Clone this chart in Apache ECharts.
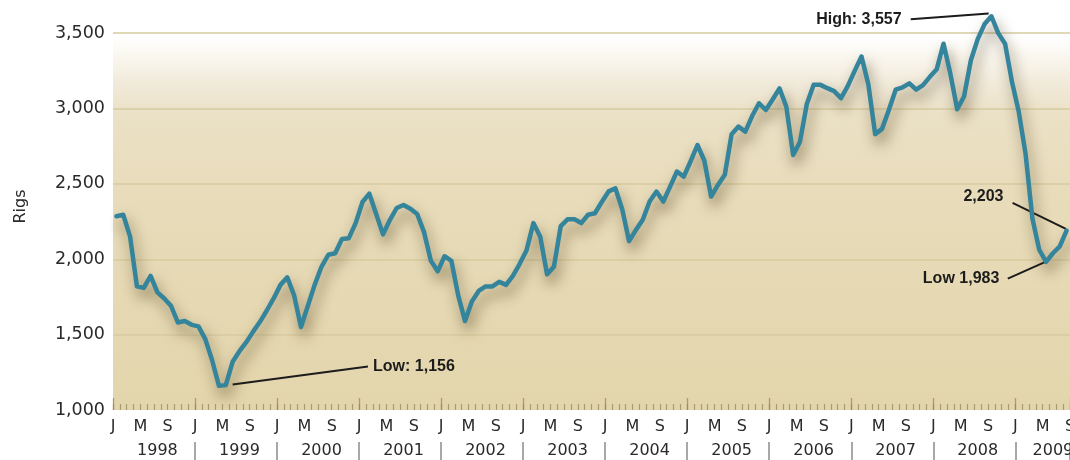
<!DOCTYPE html>
<html><head><meta charset="utf-8">
<script src="https://cdn.jsdelivr.net/npm/echarts@6/dist/echarts.min.js"></script>
<style>html,body{margin:0;padding:0;background:#fff}#c{width:1070px;height:460px}</style>
</head><body><div id="c"></div>
<script>
// ---- data (monthly rig counts, Jan 1998 - Aug 2009) ----
const years = ['1998','1999','2000','2001','2002','2003','2004','2005','2006','2007','2008','2009'];
const monthLetters = ['J','M','S'];
const rigs1998 = [2285,2295,2150,1820,1810,1890,1780,1740,1690,1580,1590,1565];
const rigs1999 = [1555,1470,1330,1160,1165,1320,1390,1450,1520,1585,1660,1740];
const rigs2000 = [1830,1880,1760,1550,1690,1830,1950,2030,2040,2135,2140,2240];
const rigs2001 = [2380,2435,2300,2165,2260,2340,2360,2335,2300,2180,1990,1920];
const rigs2002 = [2020,1990,1760,1590,1720,1790,1820,1820,1850,1830,1890,1970];
const rigs2003 = [2060,2240,2150,1900,1950,2220,2265,2265,2240,2295,2305,2380];
const rigs2004 = [2450,2470,2330,2120,2195,2262,2383,2449,2383,2482,2582,2548];
const rigs2005 = [2650,2758,2655,2416,2493,2560,2830,2880,2847,2950,3035,2990];
const rigs2006 = [3060,3134,3012,2692,2780,3030,3157,3157,3135,3115,3068,3150];
const rigs2007 = [3250,3345,3160,2830,2865,2990,3125,3140,3167,3125,3155,3210];
const rigs2008 = [3260,3430,3230,2995,3080,3320,3460,3560,3612,3500,3430,3180];
const rigs2009 = [2980,2700,2270,2063,1983,2040,2085,2190];
const notes = ['High: 3,557','Low: 1,156','2,203','Low 1,983'];
const yMin = 1000, yMax = 3700, yStep = 500;

const rigs = [].concat(rigs1998,rigs1999,rigs2000,rigs2001,rigs2002,rigs2003,
  rigs2004,rigs2005,rigs2006,rigs2007,rigs2008,rigs2009);
const monthCats = [];
years.forEach(y => { for (let m = 0; m < 12; m++) monthCats.push(y + '-' + (m + 1)); });
const nMonths = 140; // axis span: Jan 1998 .. start of Sep 2009

const FONT = "'DejaVu Sans', Arial, sans-serif";
const NOTE_FONT = "'Liberation Sans Narrow', 'Liberation Sans', Arial, sans-serif";
const txt = '#2a2a2a';
const tickColor = 'rgba(150,135,95,0.75)';

const chart = echarts.init(document.getElementById('c'), null, {renderer: 'canvas'});

const noteLabel = (text, pos) => ({
  show: true, formatter: text, position: pos, distance: 3,
  color: '#1c1c1c', fontFamily: NOTE_FONT, fontWeight: 'bold', fontSize: 16
});

chart.setOption({
  animation: false,
  grid: {
    left: 113, right: 0, top: 3, bottom: 50, show: true, borderWidth: 0,
    outerBoundsMode: 'none', containLabel: false,
    backgroundColor: {
      type: 'linear', x: 0, y: 0, x2: 0, y2: 1,
      colorStops: [
        {offset: 0, color: '#ffffff'},
        {offset: 0.085, color: '#ffffff'},
        {offset: 0.13, color: '#faf7ef'},
        {offset: 0.2, color: '#f1eada'},
        {offset: 0.27, color: '#ebe1c6'},
        {offset: 0.45, color: '#e8dcbb'},
        {offset: 1, color: '#e3d5ab'}
      ]
    }
  },
  xAxis: [
    {
      type: 'value', min: 0, max: nMonths, interval: 4, position: 'bottom',
      axisLine: {show: false},
      axisTick: {show: true, inside: true, length: 6, lineStyle: {color: tickColor, width: 1.2}},
      minorTick: {show: true, splitNumber: 4, length: 6, lineStyle: {color: tickColor, width: 1.2}},
      splitLine: {show: false}, minorSplitLine: {show: false},
      axisLabel: {
        formatter: v => monthLetters[Math.round(v / 4) % 3],
        color: txt, fontSize: 16, margin: 9, fontFamily: FONT,
        showMinLabel: true, showMaxLabel: true
      }
    },
    {
      type: 'value', min: 0, max: nMonths, interval: 12, position: 'bottom',
      axisLine: {show: false},
      axisTick: {show: true, inside: true, length: 12, lineStyle: {color: tickColor, width: 1.3}},
      axisLabel: {show: false}, splitLine: {show: false}
    },
    {
      type: 'category', data: monthCats.slice(0, nMonths), boundaryGap: true,
      position: 'bottom', offset: 32,
      axisLine: {show: false},
      axisTick: {show: true, interval: i => i % 12 === 0 && i > 0, length: 20,
        lineStyle: {color: '#8c8c8c', width: 1.5}},
      axisLabel: {
        interval: i => (i % 12 === 6 && i < 132) || i === 137,
        formatter: (v, i) => years[Math.floor(i / 12)],
        color: txt, fontSize: 16, margin: 1, fontFamily: FONT
      }
    }
  ],
  yAxis: {
    type: 'value', min: yMin, max: yMax, interval: yStep,
    name: 'Rigs', nameLocation: 'middle', nameGap: 84,
    nameTextStyle: {color: txt, fontSize: 16, fontFamily: FONT},
    axisLine: {show: false}, axisTick: {show: false},
    axisLabel: {formatter: v => v.toLocaleString('en-US'), color: txt, fontSize: 17.5,
      margin: 8, fontFamily: FONT, showMaxLabel: false},
    splitLine: {show: true, showMinLine: false, showMaxLine: false,
      lineStyle: {color: '#d7cba0', width: 1.5}}
  },
  series: [{
    type: 'line', xAxisIndex: 0,
    data: rigs.map((v, i) => [i + 0.5, v]),
    showSymbol: false, clip: false, z: 5,
    lineStyle: {
      color: '#34849c', width: 4.5, join: 'round', cap: 'round',
      shadowColor: 'rgba(70,52,15,0.6)', shadowBlur: 14, shadowOffsetX: 3, shadowOffsetY: 8
    },
    markLine: {
      silent: true, symbol: ['none', 'none'], animation: false,
      label: {show: false},
      lineStyle: {color: '#1c1c1c', width: 2, type: 'solid'},
      data: [
        [{coord: [116.7, 3593]}, {coord: [128.1, 3630]}],
        [{coord: [17.5, 1169]}, {coord: [37.3, 1288]}],
        [{coord: [131.6, 2374]}, {coord: [139.4, 2202]}],
        [{coord: [130.9, 1871]}, {coord: [136.4, 1983]}]
      ]
    },
    markPoint: {
      silent: true, symbol: 'circle', symbolSize: 0, animation: false,
      data: [
        {coord: [115.8, 3593], label: noteLabel(notes[0], 'left')},
        {coord: [37.6, 1288], label: noteLabel(notes[1], 'right')},
        {coord: [130.7, 2414], label: noteLabel(notes[2], 'left')},
        {coord: [130.1, 1871], label: noteLabel(notes[3], 'left')}
      ]
    }
  }]
});
</script></body></html>
